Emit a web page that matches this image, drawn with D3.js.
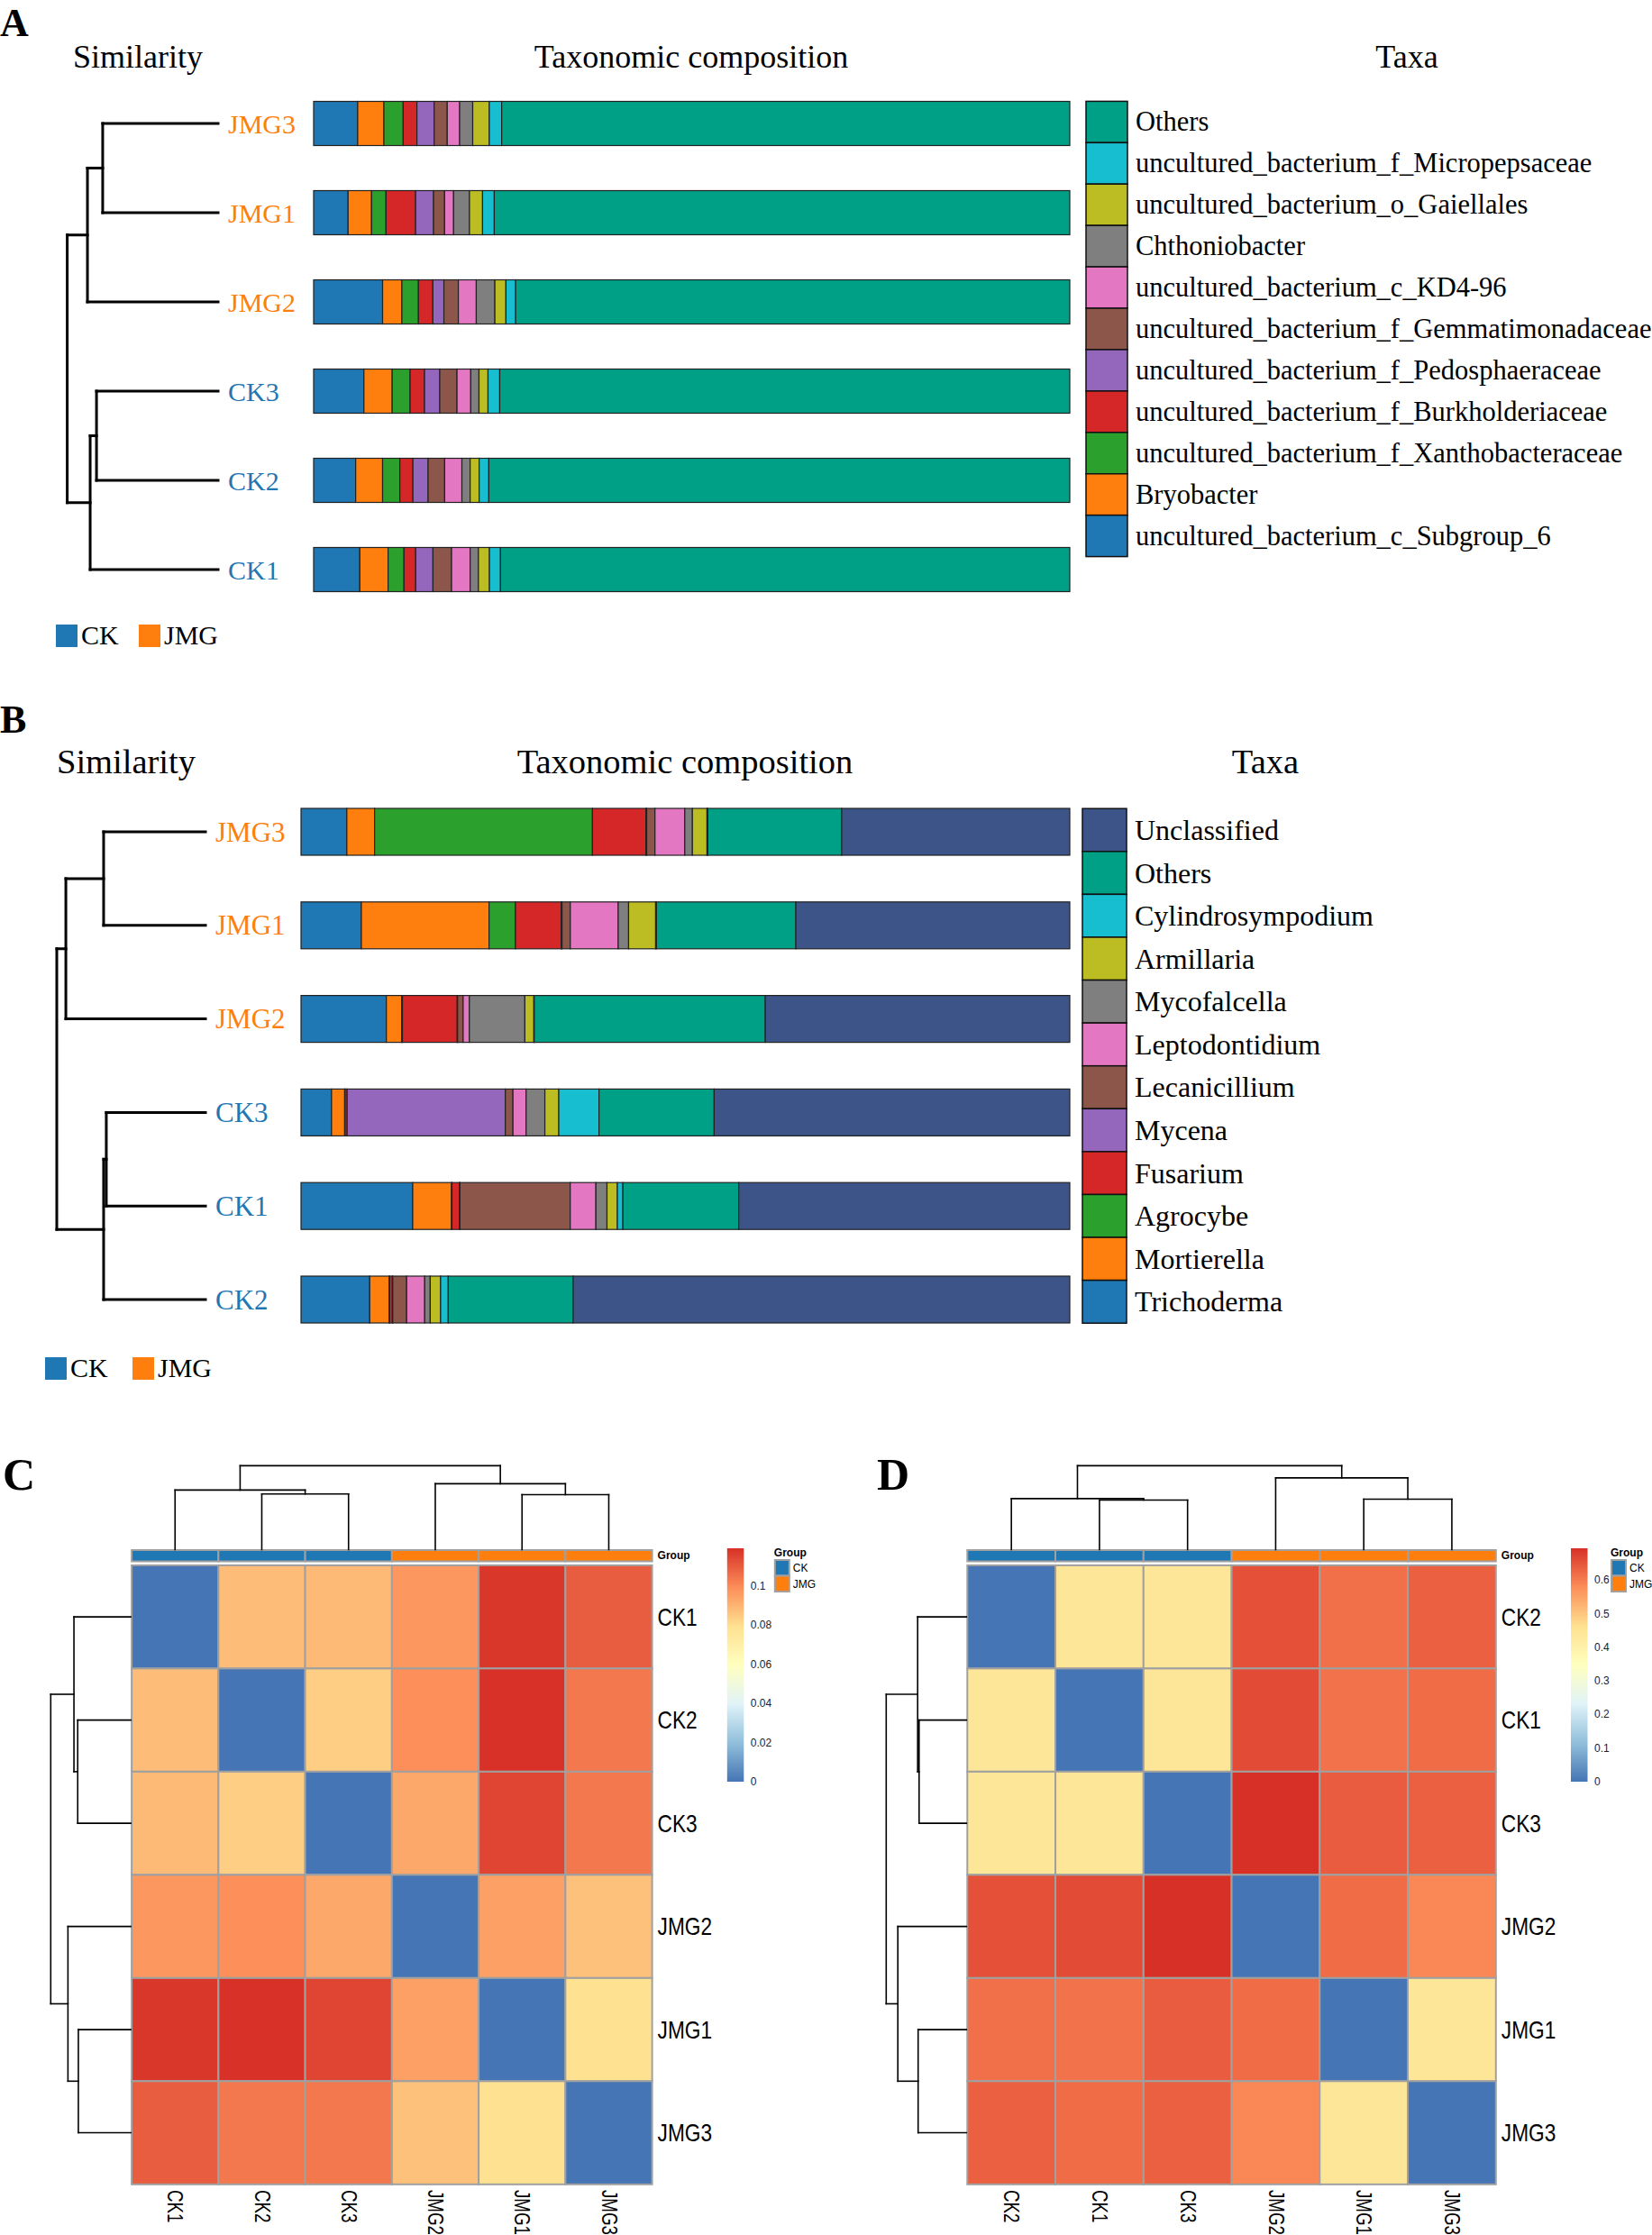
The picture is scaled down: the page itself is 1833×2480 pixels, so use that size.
<!DOCTYPE html>
<html><head><meta charset="utf-8">
<script src="https://cdn.jsdelivr.net/npm/d3@7/dist/d3.min.js"></script>
<style>body{margin:0;background:#fff}</style>
</head><body>
<svg width="1833" height="2480"></svg>
<script>
// ---------- data ----------
var samplesA = ['JMG3','JMG1','JMG2','CK3','CK2','CK1'];
var taxaA = ['uncultured_bacterium_c_Subgroup_6','Bryobacter','uncultured_bacterium_f_Xanthobacteraceae',
  'uncultured_bacterium_f_Burkholderiaceae','uncultured_bacterium_f_Pedosphaeraceae',
  'uncultured_bacterium_f_Gemmatimonadaceae','uncultured_bacterium_c_KD4-96','Chthoniobacter',
  'uncultured_bacterium_o_Gaiellales','uncultured_bacterium_f_Micropepsaceae','Others'];
var valuesA = [
  [5.83,3.46,2.55,1.82,2.28,1.73,1.64,1.73,2.19,1.64,75.13],
  [4.56,3.10,1.91,3.92,2.37,1.46,1.19,2.10,1.73,1.55,76.11],
  [9.12,2.55,2.19,1.91,1.46,1.91,2.37,2.46,1.46,1.28,73.29],
  [6.65,3.74,2.37,1.91,2.01,2.28,1.82,1.09,1.19,1.55,75.39],
  [5.56,3.56,2.28,1.73,2.01,2.19,2.28,1.09,1.19,1.28,76.83],
  [6.11,3.74,2.10,1.55,2.28,2.46,2.46,1.09,1.46,1.46,75.29]
];
var treeA = {h:1, children:[{h:0.866, children:[{h:0.765, children:['JMG3','JMG1']}, 'JMG2']},
                            {h:0.848, children:[{h:0.806, children:['CK3','CK2']}, 'CK1']}]};

var samplesB = ['JMG3','JMG1','JMG2','CK3','CK1','CK2'];
var taxaB = ['Trichoderma','Mortierella','Agrocybe','Fusarium','Mycena','Lecanicillium','Leptodontidium',
  'Mycofalcella','Armillaria','Cylindrosympodium','Others','Unclassified'];
var valuesB = [
  [5.96,3.61,28.34,6.95,0.10,1.08,3.88,0.99,1.90,0.10,17.42,29.67],
  [7.85,16.61,3.43,5.96,0.10,1.08,6.23,1.35,3.52,0.10,18.14,35.63],
  [11.10,1.99,0.10,7.13,0.05,0.72,0.81,7.22,1.17,0.05,30.05,39.61],
  [3.97,1.71,0.05,0.27,20.58,0.99,1.71,2.44,1.81,5.23,14.98,46.26],
  [14.53,5.05,0.05,0.99,0.05,14.35,3.34,1.44,1.35,0.72,15.07,43.06],
  [8.94,2.53,0.05,0.36,0.05,1.81,2.35,0.72,1.35,0.99,16.25,64.60]
];
var treeB = {h:1, children:[{h:0.939, children:[{h:0.685, children:['JMG3','JMG1']}, 'JMG2']},
                            {h:0.685, children:[{h:0.667, children:['CK3','CK1']}, 'CK2']}]};

var taxaColors = ['#1f77b4','#ff7f0e','#2ca02c','#d62728','#9467bd','#8c564b','#e377c2',
  '#7f7f7f','#bcbd22','#17becf','#00a087','#3c5488'];
var groups = ['CK','JMG'];
var groupColors = ['#1f77b4','#ff7f0e'];

var samplesC = ['CK1','CK2','CK3','JMG2','JMG1','JMG3'];
var matrixC = [
  [0,0.088,0.089,0.097,0.118,0.110],
  [0.088,0,0.084,0.099,0.119,0.104],
  [0.089,0.084,0,0.093,0.115,0.104],
  [0.097,0.099,0.093,0,0.095,0.087],
  [0.118,0.119,0.115,0.095,0,0.079],
  [0.110,0.104,0.104,0.087,0.079,0]
];
var ticksC = [0,0.02,0.04,0.06,0.08,0.1];
var maxC = 0.1194;
var treeC = {h:1, children:[{h:0.71, children:['CK1',{h:0.663, children:['CK2','CK3']}]},
                            {h:0.785, children:['JMG2',{h:0.655, children:['JMG1','JMG3']}]}]};

var samplesD = ['CK2','CK1','CK3','JMG2','JMG1','JMG3'];
var matrixD = [
  [0,0.44,0.44,0.655,0.615,0.635],
  [0.44,0,0.44,0.66,0.612,0.62],
  [0.44,0.44,0,0.695,0.64,0.635],
  [0.655,0.66,0.695,0,0.62,0.585],
  [0.615,0.612,0.64,0.62,0,0.44],
  [0.635,0.62,0.635,0.585,0.44,0]
];
var ticksD = [0,0.1,0.2,0.3,0.4,0.5,0.6];
var maxD = 0.695;
var treeD = {h:1, children:[{h:0.608, children:['CK2',{h:0.59, children:['CK1','CK3']}]},
                            {h:0.855, children:['JMG2',{h:0.602, children:['JMG1','JMG3']}]}]};

var heatPalette = ['#4575b4','#91bfdb','#e0f3f8','#ffffbf','#fee090','#fc8d59','#d73027'];

// ---------- helpers ----------
var svg = d3.select('svg');
var serif = 'Liberation Serif, Times New Roman, serif';
var sans = 'Liberation Sans, Arial, sans-serif';
function groupOf(s){ return s.indexOf('CK') === 0 ? 0 : 1; }

function drawTree(g, node, pos, hs, horiz, sw) {
  if (typeof node === 'string') return {p: pos(node), h: 0};
  var kids = node.children.map(function(c){ return drawTree(g, c, pos, hs, horiz, sw); });
  var ps = kids.map(function(k){ return k.p; });
  function seg(p1, h1, p2, h2) {
    var a = horiz ? [hs(h1), p1, hs(h2), p2] : [p1, hs(h1), p2, hs(h2)];
    g.append('line').attr('x1',a[0]).attr('y1',a[1]).attr('x2',a[2]).attr('y2',a[3])
      .attr('stroke','#000').attr('stroke-width',sw).attr('stroke-linecap','square');
  }
  kids.forEach(function(k){ seg(k.p, k.h, k.p, node.h); });
  seg(d3.min(ps), node.h, d3.max(ps), node.h);
  return {p: d3.mean(ps), h: node.h};
}

function barPanel(o) {
  var g = svg.append('g');
  g.append('text').attr('x',o.letterX).attr('y',o.letterY).text(o.letter)
    .attr('font-family',serif).attr('font-weight','bold').attr('font-size',44);
  [['Similarity',o.simX],['Taxonomic composition',o.compX],['Taxa',o.taxaX]].forEach(function(t){
    g.append('text').attr('x',t[1]).attr('y',o.titleY).attr('text-anchor','middle').text(t[0])
      .attr('font-family',serif).attr('font-size',o.titleSize);
  });
  var y = d3.scalePoint().domain(o.samples).range(o.yRange);
  var x = d3.scaleLinear().domain([0,100]).range(o.xRange);
  var hs = d3.scaleLinear().domain([0,1]).range(o.treeRange);
  drawTree(g, o.tree, y, hs, true, 3);
  g.selectAll('.lab').data(o.samples).enter().append('text')
    .attr('x',o.labelX).attr('y',function(d){ return y(d); }).attr('dominant-baseline','central')
    .attr('fill',function(d){ return groupColors[groupOf(d)]; })
    .attr('font-family',serif).attr('font-size',o.labelSize).text(function(d){ return d; });
  o.samples.forEach(function(s, i){
    var cum = 0;
    var segs = o.values[i].map(function(v, j){ var r = {x0:cum, x1:cum+v, c:taxaColors[o.colorIdx[j]]}; cum += v; return r; });
    g.selectAll(null).data(segs).enter().append('rect')
      .attr('x',function(d){ return x(d.x0); }).attr('width',function(d){ return Math.max(0, x(Math.min(d.x1,100)) - x(d.x0)); })
      .attr('y',y(s) - o.barH/2).attr('height',o.barH)
      .attr('fill',function(d){ return d.c; }).attr('stroke','#222').attr('stroke-width',1.2);
  });
  // taxa legend (reverse order)
  var items = o.taxa.map(function(t, j){ return {t:t, c:taxaColors[o.colorIdx[j]]}; }).reverse();
  var ly = d3.scaleBand().domain(items.map(function(d){ return d.t; })).range(o.legYRange);
  g.selectAll(null).data(items).enter().append('rect')
    .attr('x',o.legX).attr('width',o.legW).attr('y',function(d){ return ly(d.t); }).attr('height',ly.bandwidth())
    .attr('fill',function(d){ return d.c; }).attr('stroke','#111').attr('stroke-width',1.5);
  g.selectAll(null).data(items).enter().append('text')
    .attr('x',o.legX + o.legW + 9).attr('y',function(d){ return ly(d.t) + ly.bandwidth()/2; })
    .attr('dominant-baseline','central').attr('font-family',serif).attr('font-size',o.legSize)
    .text(function(d){ return d.t; });
  // group legend
  groups.forEach(function(gr, k){
    var gx = o.grpX[k];
    g.append('rect').attr('x',gx).attr('y',o.grpY).attr('width',24).attr('height',25).attr('fill',groupColors[k]);
    g.append('text').attr('x',gx+28).attr('y',o.grpY+22).text(gr)
      .attr('font-family',serif).attr('font-size',30);
  });
}

barPanel({letter:'A', letterX:0, letterY:40, titleY:75, titleSize:36, simX:153, compX:767, taxaX:1561,
  samples:samplesA, values:valuesA, tree:treeA, taxa:taxaA, colorIdx:[0,1,2,3,4,5,6,7,8,9,10],
  yRange:[137,632], xRange:[348,1187], treeRange:[242,74.6], barH:49, labelX:253, labelSize:30,
  legX:1205, legW:46, legYRange:[112.4,617.6], legSize:30.5, grpX:[62,154], grpY:693});

barPanel({letter:'B', letterX:0, letterY:813, titleY:858, titleSize:38.5, simX:140, compX:760, taxaX:1404,
  samples:samplesB, values:valuesB, tree:treeB, taxa:taxaB, colorIdx:[0,1,2,3,4,5,6,7,8,9,10,11],
  yRange:[923,1442], xRange:[334,1187], treeRange:[228,63], barH:52, labelX:239, labelSize:31,
  legX:1201, legW:49, legYRange:[897.2,1468.2], legSize:32, grpX:[50,147], grpY:1506});

function heatPanel(o) {
  var g = svg.append('g');
  g.append('text').attr('x',o.letterX).attr('y',1653).text(o.letter)
    .attr('font-family',serif).attr('font-weight','bold').attr('font-size',50);
  var x = d3.scaleBand().domain(o.samples).range(o.xRange);
  var y = d3.scaleBand().domain(o.samples).range([1736.9,2423.8]);
  var col = d3.scaleLinear().domain(heatPalette.map(function(d,i){ return o.max*i/6; })).range(heatPalette);
  var cells = [];
  o.samples.forEach(function(r, i){ o.samples.forEach(function(c, j){ cells.push({r:r, c:c, v:o.matrix[i][j]}); }); });
  g.selectAll(null).data(cells).enter().append('rect')
    .attr('x',function(d){ return x(d.c); }).attr('y',function(d){ return y(d.r); })
    .attr('width',x.bandwidth()).attr('height',y.bandwidth())
    .attr('fill',function(d){ return col(d.v); }).attr('stroke','#a0a0a0').attr('stroke-width',2);
  // group annotation
  g.selectAll(null).data(o.samples).enter().append('rect')
    .attr('x',function(d){ return x(d); }).attr('y',1720).attr('width',x.bandwidth()).attr('height',12.5)
    .attr('fill',function(d){ return groupColors[groupOf(d)]; }).attr('stroke','#a0a0a0').attr('stroke-width',2);
  g.append('text').attr('x',o.xRange[1]+6).attr('y',1726).attr('dominant-baseline','central')
    .attr('font-family',sans).attr('font-weight','bold').attr('font-size',12).text('Group');
  // labels
  g.selectAll(null).data(o.samples).enter().append('text')
    .attr('transform',function(d){ return 'translate(' + (o.xRange[1]+6) + ',' + (y(d) + y.bandwidth()/2) + ') scale(0.84,1)'; })
    .attr('dominant-baseline','central').attr('font-family',sans).attr('font-size',27).text(function(d){ return d; });
  g.selectAll(null).data(o.samples).enter().append('text')
    .attr('transform',function(d){ return 'translate(' + (x(d) + x.bandwidth()/2) + ',2430) rotate(90) scale(0.78,1)'; })
    .attr('dominant-baseline','central').attr('font-family',sans).attr('font-size',24).text(function(d){ return d; });
  // dendrograms
  var xc = function(s){ return x(s) + x.bandwidth()/2; };
  var yc = function(s){ return y(s) + y.bandwidth()/2; };
  drawTree(g, o.tree, xc, d3.scaleLinear().domain([0,1]).range([1719.5,1626.4]), false, 1.6);
  drawTree(g, o.tree, yc, d3.scaleLinear().domain([0,1]).range([o.xRange[0]-1, o.leftRoot]), true, 1.6);
  // colour bar
  var gid = 'grad' + o.letter;
  var grad = svg.append('defs').append('linearGradient').attr('id',gid)
    .attr('x1',0).attr('y1',1).attr('x2',0).attr('y2',0);
  heatPalette.forEach(function(c, i){ grad.append('stop').attr('offset',(i/6*100)+'%').attr('stop-color',c); });
  var ly = d3.scaleLinear().domain([0,o.max]).range([1977,1718]);
  g.append('rect').attr('x',o.barX).attr('y',1718).attr('width',18.5).attr('height',259).attr('fill','url(#'+gid+')');
  g.selectAll(null).data(o.ticks).enter().append('text')
    .attr('x',o.barX + 26).attr('y',function(d){ return ly(d); }).attr('dominant-baseline','central')
    .attr('font-family',sans).attr('font-size',12).attr('fill','#222').text(function(d){ return String(d); });
  var gx = o.barX + o.grpOff;
  g.append('text').attr('x',gx).attr('y',1723).attr('dominant-baseline','central')
    .attr('font-family',sans).attr('font-weight','bold').attr('font-size',12).text('Group');
  groups.forEach(function(gr, k){
    g.append('rect').attr('x',gx+1).attr('y',1731 + k*17.5).attr('width',16).attr('height',17.5)
      .attr('fill',groupColors[k]).attr('stroke','#a0a0a0').attr('stroke-width',2);
    g.append('text').attr('x',gx+21).attr('y',1740 + k*17.5).attr('dominant-baseline','central')
      .attr('font-family',sans).attr('font-size',12).text(gr);
  });
}

heatPanel({letter:'C', letterX:3, samples:samplesC, matrix:matrixC, max:maxC, ticks:ticksC, tree:treeC,
  xRange:[146.1,723.6], leftRoot:56.3, barX:806.8, grpOff:52});
heatPanel({letter:'D', letterX:973, samples:samplesD, matrix:matrixD, max:maxD, ticks:ticksD, tree:treeD,
  xRange:[1073.3,1659.8], leftRoot:983.3, barX:1743, grpOff:44});
</script>
</body></html>
